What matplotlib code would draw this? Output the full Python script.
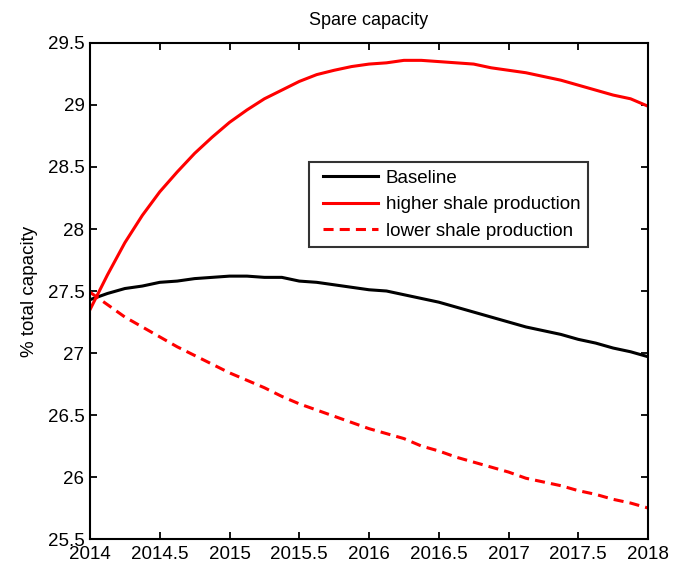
import numpy as np
import matplotlib
matplotlib.use('Agg')
import matplotlib.pyplot as plt

plt.rcParams['font.family'] = ['Liberation Sans', 'DejaVu Sans']

# time axis, eighth-year steps
years = 2014 + 0.125 * np.arange(33)

baseline = [27.43, 27.48, 27.52, 27.54, 27.57, 27.58, 27.60, 27.61, 27.62,
            27.62, 27.61, 27.61, 27.58, 27.57, 27.55, 27.53, 27.51,
            27.50, 27.47, 27.44, 27.41, 27.37, 27.33, 27.29, 27.25,
            27.21, 27.18, 27.15, 27.11, 27.08, 27.04, 27.01, 26.97]

higher_shale = [27.35, 27.63, 27.89, 28.11, 28.30, 28.46, 28.61, 28.74, 28.86,
                28.96, 29.05, 29.12, 29.19, 29.245, 29.28, 29.31, 29.33,
                29.34, 29.36, 29.36, 29.35, 29.34, 29.33, 29.30, 29.28,
                29.26, 29.23, 29.20, 29.16, 29.12, 29.08, 29.05, 28.99]

lower_shale = [27.49, 27.39, 27.29, 27.21, 27.13, 27.05, 26.98, 26.91, 26.84,
               26.78, 26.72, 26.65, 26.59, 26.54, 26.49, 26.44, 26.39,
               26.35, 26.31, 26.25, 26.21, 26.16, 26.12, 26.08, 26.04,
               25.99, 25.96, 25.93, 25.89, 25.86, 25.82, 25.79, 25.75]

xticks = [2014, 2014.5, 2015, 2015.5, 2016, 2016.5, 2017, 2017.5, 2018]
xticklabels = ['2014', '2014.5', '2015', '2015.5', '2016', '2016.5', '2017', '2017.5', '2018']
yticks = [25.5, 26, 26.5, 27, 27.5, 28, 28.5, 29, 29.5]
yticklabels = ['25.5', '26', '26.5', '27', '27.5', '28', '28.5', '29', '29.5']

fig = plt.figure(figsize=(6.83, 5.62), dpi=100)
ax = fig.add_axes([0.1318, 0.0409, 0.817, 0.8826])

lw = 2.2
ax.plot(years, baseline, color='black', lw=lw, label='Baseline')
ax.plot(years, higher_shale, color='#ff0000', lw=lw, label='higher shale production')
ax.plot(years, lower_shale, color='#ff0000', lw=lw, dashes=(3.3, 2.0),
        label='lower shale production')

ax.set_xlim(2014, 2018)
ax.set_ylim(25.5, 29.5)
ax.set_xticks(xticks)
ax.set_xticklabels(xticklabels)
ax.set_yticks(yticks)
ax.set_yticklabels(yticklabels)
ax.tick_params(direction='in', length=5, width=1.3, top=True, right=True,
               labelsize=13.5)
ax.tick_params(axis='x', pad=5)
ax.tick_params(axis='y', pad=4)
for sp in ax.spines.values():
    sp.set_linewidth(1.5)

ax.set_title('Spare capacity', fontsize=13, pad=13)
ax.set_ylabel('% total capacity', fontsize=13.5, labelpad=7)

leg = ax.legend(loc='upper left', bbox_to_anchor=(0.3925, 0.760), fontsize=13.5,
                frameon=True, fancybox=False, shadow=False, borderpad=0.4,
                handlelength=3.3, handletextpad=0.4, labelspacing=0.5,
                borderaxespad=0)
leg.get_frame().set_edgecolor('black')
leg.get_frame().set_linewidth(1.5)
# matlab-style legend: sample lines start a bit in from the box edge
for ln in leg.get_lines():
    xd = np.asarray(ln.get_xdata(), dtype=float)
    ln.set_xdata(np.linspace(xd[0] + 4.3, xd[-1], len(xd)))

fig.savefig('out.png', dpi=100)
